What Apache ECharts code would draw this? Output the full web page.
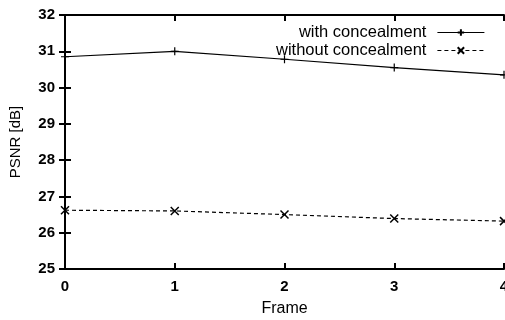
<!DOCTYPE html>
<html>
<head>
<meta charset="utf-8">
<script src="https://cdn.jsdelivr.net/npm/echarts@6/dist/echarts.min.js"></script>
<style>
  html, body { margin: 0; padding: 0; background: #fff; }
  #chart { width: 505px; height: 320px; }
</style>
</head>
<body>
<div id="chart"></div>
<script>
// data
var frames = [0, 1, 2, 3, 4];
var withConcealment = [30.85, 31.0, 30.78, 30.55, 30.35];
var withoutConcealment = [26.62, 26.6, 26.5, 26.39, 26.32];
var seriesNames = ['with concealment', 'without concealment'];

var plusSymbol = 'path://M5,0L5,10M0,5L10,5';
var crossSymbol = 'path://M0,0L10,10M10,0L0,10';
var font = 'Liberation Sans, Arial, sans-serif';

function pairs(xs, ys) {
  return xs.map(function (x, i) { return [x, ys[i]]; });
}

var chart = echarts.init(document.getElementById('chart'));
var option = {
  animation: false,
  textStyle: { fontFamily: font, color: '#000' },
  grid: { left: 65, right: 1, top: 15, bottom: 51, outerBoundsMode: 'none', containLabel: false },
  legend: {
    orient: 'vertical',
    right: 20,
    top: 24,
    padding: 0,
    align: 'right',
    itemWidth: 47,
    itemHeight: 8,
    itemGap: 1,
    lineStyle: { width: 1.2 },
    textStyle: { fontFamily: font, fontSize: 16.5, color: '#000', padding: [0, 6, 0, 0] },
    data: seriesNames
  },
  xAxis: [
    {
      type: 'value', min: 0, max: 4, interval: 1,
      name: 'Frame', nameLocation: 'middle', nameGap: 32,
      nameTextStyle: { fontSize: 16, color: '#000' },
      axisLine: { lineStyle: { color: '#000', width: 2 } },
      axisTick: { inside: true, length: 6, lineStyle: { color: '#000', width: 2 } },
      axisLabel: { fontSize: 15, fontWeight: 'bold', color: '#000', margin: 10 },
      splitLine: { show: false }
    },
    {
      type: 'value', min: 0, max: 4, interval: 1, position: 'top',
      axisLine: { lineStyle: { color: '#000', width: 2 } },
      axisTick: { inside: true, length: 6, lineStyle: { color: '#000', width: 2 } },
      axisLabel: { show: false },
      splitLine: { show: false }
    }
  ],
  yAxis: [
    {
      type: 'value', min: 25, max: 32, interval: 1,
      name: 'PSNR [dB]', nameLocation: 'middle', nameGap: 42, nameRotate: 90,
      nameTextStyle: { fontSize: 15, color: '#000' },
      axisLine: { show: true, lineStyle: { color: '#000', width: 2 } },
      axisTick: { show: true, inside: true, length: 6, lineStyle: { color: '#000', width: 2 } },
      axisLabel: { fontSize: 15, fontWeight: 'bold', color: '#000', margin: 10 },
      splitLine: { show: false }
    },
    {
      type: 'value', min: 25, max: 32, interval: 1, position: 'right',
      axisLine: { show: true, lineStyle: { color: '#000', width: 2 } },
      axisTick: { show: true, inside: true, length: 6, lineStyle: { color: '#000', width: 2 } },
      axisLabel: { show: false },
      splitLine: { show: false }
    }
  ],
  series: [
    {
      name: seriesNames[0],
      type: 'line',
      data: pairs(frames, withConcealment),
      symbol: plusSymbol,
      symbolSize: 8,
      lineStyle: { color: '#000', width: 1.2, type: 'solid' },
      itemStyle: { color: 'none', borderColor: '#000', borderWidth: 1.2 }
    },
    {
      name: seriesNames[1],
      type: 'line',
      data: pairs(frames, withoutConcealment),
      symbol: crossSymbol,
      symbolSize: 8,
      lineStyle: { color: '#000', width: 1.2, type: [4, 3] },
      itemStyle: { color: 'none', borderColor: '#000', borderWidth: 1.5 }
    }
  ]
};
chart.setOption(option);
</script>
</body>
</html>
